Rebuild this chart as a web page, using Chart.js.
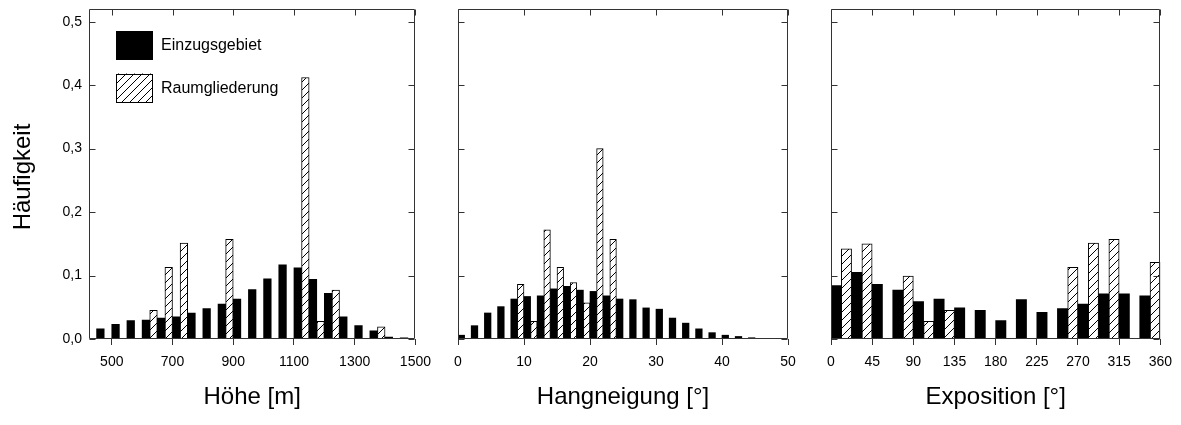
<!DOCTYPE html>
<html>
<head>
<meta charset="utf-8">
<script src="https://cdn.jsdelivr.net/npm/chart.js@4.4.0/dist/chart.umd.min.js"></script>
<style>
  html, body { margin: 0; padding: 0; background: #fff; }
  #wrap { position: relative; width: 1181px; height: 425px; }
  canvas { position: absolute; top: 0; }
</style>
</head>
<body>
<div id="wrap">
  <canvas id="hoehe" width="440" height="425" style="left:0"></canvas>
  <canvas id="neigung" width="370" height="425" style="left:440px"></canvas>
  <canvas id="exposition" width="371" height="425" style="left:810px"></canvas>
</div>
<script>
// bin centres and frequencies
const hoeheBins = [475, 525, 575, 625, 675, 725, 775, 825, 875, 925, 975, 1025, 1075, 1125, 1175, 1225, 1275, 1325, 1375, 1425, 1475];
const hoeheEinzug = [0.016, 0.023, 0.029, 0.030, 0.033, 0.035, 0.041, 0.048, 0.055, 0.063, 0.078, 0.095, 0.117, 0.112, 0.094, 0.072, 0.035, 0.021, 0.013, 0.003, 0.002];
const hoeheRaum = [null, null, null, 0.045, 0.113, 0.151, null, null, 0.157, null, null, null, null, 0.412, 0.028, 0.077, null, null, 0.019, null, null];
const hoeheTicks = [500, 700, 900, 1100, 1300, 1500];

const neigungBins = [1, 3, 5, 7, 9, 11, 13, 15, 17, 19, 21, 23, 25, 27, 29, 31, 33, 35, 37, 39, 41, 43, 45];
const neigungEinzug = [0.006, 0.021, 0.041, 0.051, 0.063, 0.067, 0.068, 0.079, 0.083, 0.077, 0.075, 0.068, 0.063, 0.062, 0.049, 0.047, 0.033, 0.025, 0.016, 0.010, 0.006, 0.004, 0.002];
const neigungRaum = [null, null, null, null, 0.086, 0.028, 0.172, 0.113, 0.089, 0.057, 0.300, 0.157, null, null, null, null, null, null, null, null, null, null, null];
const neigungTicks = [0, 10, 20, 30, 40, 50];

const expoBins = [11.25, 33.75, 56.25, 78.75, 101.25, 123.75, 146.25, 168.75, 191.25, 213.75, 236.25, 258.75, 281.25, 303.75, 326.25, 348.75];
const expoEinzug = [0.084, 0.105, 0.086, 0.077, 0.059, 0.063, 0.049, 0.045, 0.029, 0.062, 0.042, 0.048, 0.055, 0.071, 0.071, 0.068];
const expoRaum = [0.142, 0.150, null, 0.099, 0.028, 0.045, null, null, null, null, null, 0.113, 0.151, 0.157, null, 0.121];
const expoTicks = [0, 45, 90, 135, 180, 225, 270, 315, 360];

const yTicks = [0, 0.1, 0.2, 0.3, 0.4, 0.5];
const seriesLabels = ['Einzugsgebiet', 'Raumgliederung'];

const FONT = 'Liberation Sans, Arial, sans-serif';
const lineColor = '#333';

const makeHatch = () => {
    const c = document.createElement('canvas');
    c.width = 8;
    c.height = 8;
    const g = c.getContext('2d');
    g.fillStyle = '#fff';
    g.fillRect(0, 0, 8, 8);
    g.strokeStyle = '#000';
    g.lineWidth = 1;
    g.beginPath();
    g.moveTo(0, 8); g.lineTo(8, 0);
    g.moveTo(-1, 1); g.lineTo(1, -1);
    g.moveTo(7, 9); g.lineTo(9, 7);
    g.stroke();
    return g.createPattern(c, 'repeat');
};
const hatch = makeHatch();

// box around the plot with inward ticks on top, left and right
const framePlugin = {
    id: 'frame',
    afterDraw(chart) {
        const { ctx, chartArea: a, scales: { x, y } } = chart;
        const l = Math.round(a.left) + 0.5;
        const r = Math.round(a.right) - 0.5;
        const t = Math.round(a.top) + 0.5;
        const b = Math.round(a.bottom) - 0.5;
        ctx.save();
        ctx.strokeStyle = lineColor;
        ctx.lineWidth = 1;
        ctx.beginPath();
        ctx.rect(l, t, r - l, b - t);
        x.ticks.forEach((tick) => {
            const px = Math.round(x.getPixelForValue(tick.value)) + 0.5;
            ctx.moveTo(px, t);
            ctx.lineTo(px, t + 6);
        });
        y.ticks.forEach((tick) => {
            const py = Math.round(y.getPixelForValue(tick.value)) + 0.5;
            ctx.moveTo(l, py);
            ctx.lineTo(l + 6, py);
            ctx.moveTo(r, py);
            ctx.lineTo(r - 6, py);
        });
        ctx.stroke();
        ctx.restore();
    },
};

const innerLegend = {
    id: 'innerLegend',
    afterDraw(chart) {
        const { ctx, chartArea: a } = chart;
        ctx.save();
        chart.data.datasets.forEach((ds, i) => {
            const bx = a.left + 27;
            const by = a.top + 22 + i * 42.5;
            ctx.fillStyle = ds.backgroundColor;
            ctx.fillRect(bx, by, 37, 29);
            if (ds.borderWidth) {
                ctx.strokeStyle = ds.borderColor;
                ctx.lineWidth = 1;
                ctx.strokeRect(Math.round(bx) + 0.5, Math.round(by) + 0.5, 36, 28);
            }
            ctx.fillStyle = '#000';
            ctx.font = `16px ${FONT}`;
            ctx.textBaseline = 'middle';
            ctx.fillText(ds.label, bx + 45, by + 15);
        });
        ctx.restore();
    },
};

const yTitle = {
    id: 'yTitle',
    afterDraw(chart) {
        const { ctx } = chart;
        ctx.save();
        ctx.translate(23, 177);
        ctx.rotate(-Math.PI / 2);
        ctx.fillStyle = '#000';
        ctx.font = `24px ${FONT}`;
        ctx.textAlign = 'center';
        ctx.textBaseline = 'middle';
        ctx.fillText('Häufigkeit', 0, 0);
        ctx.restore();
    },
};

const buildChart = (id, cfg) => new Chart(document.getElementById(id), {
    type: 'bar',
    data: {
        labels: cfg.bins,
        datasets: [
            {
                label: seriesLabels[0],
                data: cfg.einzug,
                backgroundColor: '#000',
                borderWidth: 0,
            },
            {
                label: seriesLabels[1],
                data: cfg.raum,
                backgroundColor: hatch,
                borderColor: '#000',
                borderWidth: 1,
            },
        ],
    },
    options: {
        responsive: false,
        animation: false,
        layout: { padding: cfg.padding },
        datasets: { bar: { categoryPercentage: 1, barPercentage: 1 } },
        plugins: { legend: { display: false }, tooltip: { enabled: false } },
        scales: {
            x: {
                type: 'linear',
                min: cfg.min,
                max: cfg.max,
                offset: false,
                afterBuildTicks: (s) => { s.ticks = cfg.ticks.map((v) => ({ value: v })); },
                afterFit: (s) => { s.height = 86; },
                ticks: {
                    color: '#000',
                    font: { family: FONT, size: 14 },
                    padding: 9,
                    maxRotation: 0,
                    autoSkip: false,
                    callback: (v) => String(v),
                },
                grid: { display: true, drawOnChartArea: false, drawTicks: true, tickLength: 6, color: lineColor, offset: false },
                border: { display: false },
                title: {
                    display: true,
                    text: cfg.title,
                    color: '#000',
                    font: { family: FONT, size: 24 },
                    padding: { top: 0, bottom: 13 },
                },
            },
            y: {
                min: 0,
                max: 0.52,
                afterBuildTicks: (s) => { s.ticks = yTicks.map((v) => ({ value: v })); },
                afterFit: (s) => { s.width = cfg.yWidth; },
                ticks: {
                    display: cfg.showY,
                    color: '#000',
                    font: { family: FONT, size: 14 },
                    padding: 0,
                    callback: (v) => v.toFixed(1).replace('.', ','),
                },
                grid: { display: false, drawTicks: true, tickLength: 7 },
                border: { display: false },
            },
        },
    },
    plugins: cfg.plugins,
});

buildChart('hoehe', {
    bins: hoeheBins, einzug: hoeheEinzug, raum: hoeheRaum, ticks: hoeheTicks,
    min: 425, max: 1500, title: 'Höhe [m]',
    padding: { left: 0, right: 21, top: 9, bottom: 0 }, yWidth: 89, showY: true,
    plugins: [framePlugin, innerLegend, yTitle],
});

buildChart('neigung', {
    bins: neigungBins, einzug: neigungEinzug, raum: neigungRaum, ticks: neigungTicks,
    min: 0, max: 50, title: 'Hangneigung [°]',
    padding: { left: 0, right: 22, top: 9, bottom: 0 }, yWidth: 18, showY: false,
    plugins: [framePlugin],
});

buildChart('exposition', {
    bins: expoBins, einzug: expoEinzug, raum: expoRaum, ticks: expoTicks,
    min: 0, max: 360, title: 'Exposition [°]',
    padding: { left: 0, right: 20, top: 9, bottom: 0 }, yWidth: 21, showY: false,
    plugins: [framePlugin],
});
</script>
</body>
</html>
